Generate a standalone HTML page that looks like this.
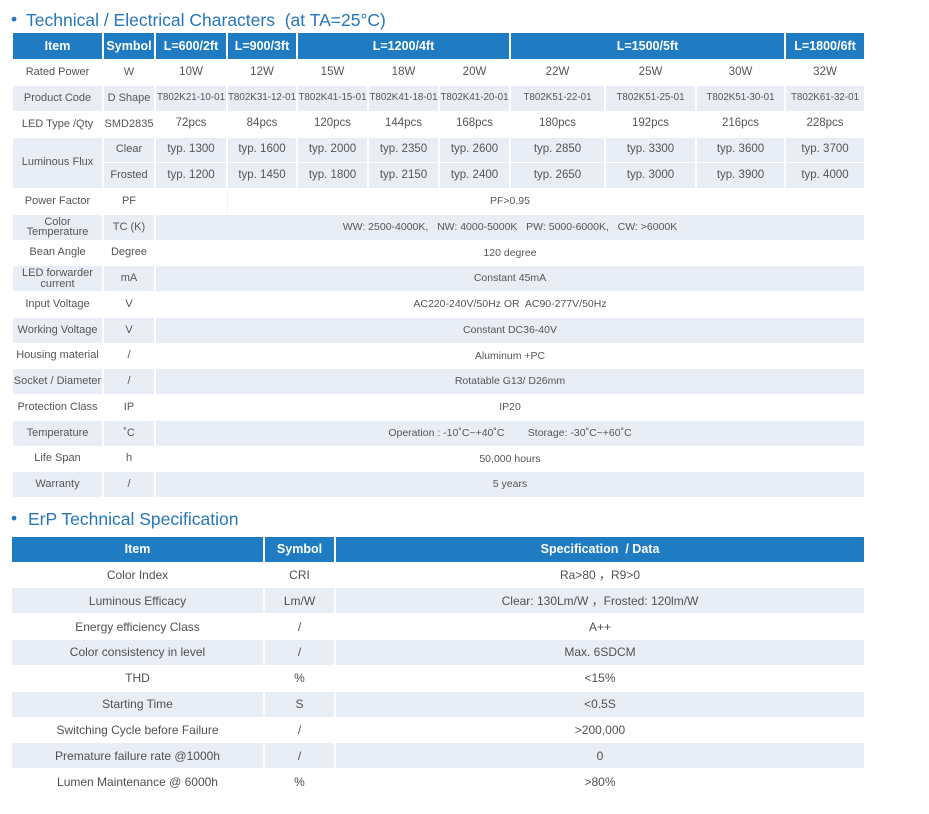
<!DOCTYPE html>
<html>
<head>
<meta charset="utf-8">
<style>
html,body{margin:0;padding:0}
body{width:929px;height:814px;background:#fff;position:relative;overflow:hidden;font-family:"Liberation Sans","Noto Sans CJK SC",sans-serif}
.c{position:absolute;display:flex;align-items:center;justify-content:center;text-align:center;color:#555;font-size:11.5px;line-height:1;height:24.75px;white-space:nowrap}
.s{background:#e9eef6}
.h{background:#1f7cc2;color:#fff;font-weight:bold;font-size:12.5px;top:33px;height:26px}
.ci{left:13px;width:89px;font-size:11px}
.cs{left:104px;width:50px;font-size:11px}
.c1{left:156px;width:70px}
.c2{left:228px;width:68px}
.c3{left:298px;width:69px}
.c4{left:369px;width:69px}
.c5{left:440px;width:69px}
.c6{left:511px;width:93px}
.c7{left:606px;width:89px}
.c8{left:697px;width:87px}
.c9{left:786px;width:78px}
.cm{left:156px;width:708px;font-size:10.5px}
.pc{font-size:9.8px}
.r0{top:60.25px}.r1{top:86px}.r2{top:111.75px}.r3{top:137.5px}.r4{top:163.25px}.r5{top:189px}.r6{top:214.75px}.r7{top:240.5px}.r8{top:266.25px}.r9{top:292px}.r10{top:317.75px}.r11{top:343.5px}.r12{top:369.25px}.r13{top:395px}.r14{top:420.75px}.r15{top:446.5px}.r16{top:472.25px}
.t{position:absolute;color:#2576bb;font-size:17.5px;line-height:1;white-space:nowrap}
.b{position:absolute;color:#2576bb;font-size:17.5px;line-height:1}
.e{position:absolute;display:flex;align-items:center;justify-content:center;text-align:center;color:#505050;font-size:12px;line-height:1;height:25px;white-space:nowrap}
.eh{background:#1f7cc2;color:#fff;font-weight:bold;font-size:12.5px;top:537px;height:25px}
.ei{left:12px;width:251px}
.es{left:265px;width:69px}
.ed{left:336px;width:528px}
.q0{top:562.3px}.q1{top:588.15px}.q2{top:614px}.q3{top:639.85px}.q4{top:665.7px}.q5{top:691.55px}.q6{top:717.4px}.q7{top:743.25px}.q8{top:769.1px}
</style>
</head>
<body>
<div class="b" style="left:11px;top:11px">•</div>
<div class="t" style="left:26px;top:11.7px">Technical / Electrical Characters&nbsp; (at TA=25°C)</div>

<!-- header -->
<div class="c h" style="left:13px;width:89px">Item</div>
<div class="c h" style="left:104px;width:50px">Symbol</div>
<div class="c h" style="left:156px;width:70px">L=600/2ft</div>
<div class="c h" style="left:228px;width:68px">L=900/3ft</div>
<div class="c h" style="left:298px;width:211px">L=1200/4ft</div>
<div class="c h" style="left:511px;width:273px">L=1500/5ft</div>
<div class="c h" style="left:786px;width:78px">L=1800/6ft</div>

<!-- row 0 -->
<div class="c ci r0">Rated Power</div>
<div class="c cs r0">W</div>
<div class="c c1 r0">10W</div><div class="c c2 r0">12W</div><div class="c c3 r0">15W</div><div class="c c4 r0">18W</div><div class="c c5 r0">20W</div><div class="c c6 r0">22W</div><div class="c c7 r0">25W</div><div class="c c8 r0">30W</div><div class="c c9 r0">32W</div>

<!-- row 1 -->
<div class="c s ci r1">Product Code</div>
<div class="c s cs r1">D Shape</div>
<div class="c s c1 r1 pc">T802K21-10-01</div><div class="c s c2 r1 pc">T802K31-12-01</div><div class="c s c3 r1 pc">T802K41-15-01</div><div class="c s c4 r1 pc">T802K41-18-01</div><div class="c s c5 r1 pc">T802K41-20-01</div><div class="c s c6 r1 pc">T802K51-22-01</div><div class="c s c7 r1 pc">T802K51-25-01</div><div class="c s c8 r1 pc">T802K51-30-01</div><div class="c s c9 r1 pc">T802K61-32-01</div>

<!-- row 2 -->
<div class="c ci r2">LED Type /Qty</div>
<div class="c cs r2">SMD2835</div>
<div class="c c1 r2">72pcs</div><div class="c c2 r2">84pcs</div><div class="c c3 r2">120pcs</div><div class="c c4 r2">144pcs</div><div class="c c5 r2">168pcs</div><div class="c c6 r2">180pcs</div><div class="c c7 r2">192pcs</div><div class="c c8 r2">216pcs</div><div class="c c9 r2">228pcs</div>

<!-- rows 3-4 -->
<div class="c s ci r3" style="height:50.5px">Luminous Flux</div>
<div class="c s cs r3">Clear</div>
<div class="c s c1 r3">typ. 1300</div><div class="c s c2 r3">typ. 1600</div><div class="c s c3 r3">typ. 2000</div><div class="c s c4 r3">typ. 2350</div><div class="c s c5 r3">typ. 2600</div><div class="c s c6 r3">typ. 2850</div><div class="c s c7 r3">typ. 3300</div><div class="c s c8 r3">typ. 3600</div><div class="c s c9 r3">typ. 3700</div>
<div class="c s cs r4">Frosted</div>
<div class="c s c1 r4">typ. 1200</div><div class="c s c2 r4">typ. 1450</div><div class="c s c3 r4">typ. 1800</div><div class="c s c4 r4">typ. 2150</div><div class="c s c5 r4">typ. 2400</div><div class="c s c6 r4">typ. 2650</div><div class="c s c7 r4">typ. 3000</div><div class="c s c8 r4">typ. 3900</div><div class="c s c9 r4">typ. 4000</div>

<!-- row 5 -->
<div class="c ci r5">Power Factor</div>
<div class="c cs r5">PF</div>
<div style="position:absolute;left:226.5px;top:189px;width:1px;height:25px;background:#eef1f6"></div>
<div class="c cm r5">PF&gt;0.95</div>

<!-- row 6 -->
<div class="c s ci r6" style="line-height:0.95">Color<br>Temperature</div>
<div class="c s cs r6">TC (K)</div>
<div class="c s cm r6">WW: 2500-4000K,&nbsp;&nbsp; NW: 4000-5000K&nbsp;&nbsp; PW: 5000-6000K,&nbsp;&nbsp; CW: &gt;6000K</div>

<!-- row 7 -->
<div class="c ci r7">Bean Angle</div>
<div class="c cs r7">Degree</div>
<div class="c cm r7">120 degree</div>

<!-- row 8 -->
<div class="c s ci r8" style="line-height:0.95">LED forwarder<br>current</div>
<div class="c s cs r8">mA</div>
<div class="c s cm r8">Constant 45mA</div>

<!-- row 9 -->
<div class="c ci r9">Input Voltage</div>
<div class="c cs r9">V</div>
<div class="c cm r9">AC220-240V/50Hz OR&nbsp; AC90-277V/50Hz</div>

<!-- row 10 -->
<div class="c s ci r10">Working Voltage</div>
<div class="c s cs r10">V</div>
<div class="c s cm r10">Constant DC36-40V</div>

<!-- row 11 -->
<div class="c ci r11">Housing material</div>
<div class="c cs r11">/</div>
<div class="c cm r11">Aluminum +PC</div>

<!-- row 12 -->
<div class="c s ci r12">Socket / Diameter</div>
<div class="c s cs r12">/</div>
<div class="c s cm r12">Rotatable G13/ D26mm</div>

<!-- row 13 -->
<div class="c ci r13">Protection Class</div>
<div class="c cs r13">IP</div>
<div class="c cm r13">IP20</div>

<!-- row 14 -->
<div class="c s ci r14">Temperature</div>
<div class="c s cs r14">˚C</div>
<div class="c s cm r14">Operation : -10˚C~+40˚C&nbsp;&nbsp;&nbsp;&nbsp;&nbsp;&nbsp;&nbsp; Storage: -30˚C~+60˚C</div>

<!-- row 15 -->
<div class="c ci r15">Life Span</div>
<div class="c cs r15">h</div>
<div class="c cm r15">50,000 hours</div>

<!-- row 16 -->
<div class="c s ci r16">Warranty</div>
<div class="c s cs r16">/</div>
<div class="c s cm r16">5 years</div>

<!-- ErP -->
<div class="b" style="left:11px;top:510px">•</div>
<div class="t" style="left:28px;top:511.2px">ErP Technical Specification</div>

<div class="e eh ei">Item</div>
<div class="e eh es">Symbol</div>
<div class="e eh ed">Specification&nbsp; / Data</div>

<div class="e ei q0">Color Index</div><div class="e es q0">CRI</div><div class="e ed q0">Ra&gt;80 ，R9&gt;0</div>
<div class="e s ei q1">Luminous Efficacy</div><div class="e s es q1">Lm/W</div><div class="e s ed q1">Clear: 130Lm/W ，Frosted: 120lm/W</div>
<div class="e ei q2">Energy efficiency Class</div><div class="e es q2">/</div><div class="e ed q2">A++</div>
<div class="e s ei q3">Color consistency in level</div><div class="e s es q3">/</div><div class="e s ed q3">Max. 6SDCM</div>
<div class="e ei q4">THD</div><div class="e es q4">%</div><div class="e ed q4">&lt;15%</div>
<div class="e s ei q5">Starting Time</div><div class="e s es q5">S</div><div class="e s ed q5">&lt;0.5S</div>
<div class="e ei q6">Switching Cycle before Failure</div><div class="e es q6">/</div><div class="e ed q6">&gt;200,000</div>
<div class="e s ei q7">Premature failure rate @1000h</div><div class="e s es q7">/</div><div class="e s ed q7">0</div>
<div class="e ei q8">Lumen Maintenance @ 6000h</div><div class="e es q8">%</div><div class="e ed q8">&gt;80%</div>
</body>
</html>
